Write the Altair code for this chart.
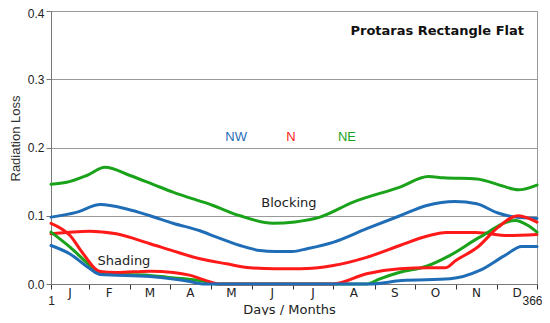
import altair as alt
import pandas as pd

# ---- data ----
blk_ne_day = [1, 12.8, 27.8, 41.6, 60.3, 77.6, 92.6, 122.7, 142.9, 167.7, 184.3, 203, 228, 263.1, 284.4, 295.7, 320.7, 339.5, 351.9, 366]
blk_ne_val = [0.146, 0.149, 0.159, 0.171, 0.159, 0.146, 0.1346, 0.115, 0.100, 0.089, 0.091, 0.098, 0.120, 0.142, 0.1575, 0.1556, 0.154, 0.144, 0.138, 0.145]

blk_nw_day = [1, 20, 38.1, 57.9, 75.4, 92.6, 112.9, 125.4, 142.9, 158, 169.2, 182, 194, 212.8, 238.1, 263.1, 283.2, 304.4, 320.7, 336.7, 349.6, 366]
blk_nw_val = [0.098, 0.105, 0.1165, 0.110, 0.100, 0.089, 0.078, 0.0686, 0.0564, 0.049, 0.0476, 0.0476, 0.052, 0.061, 0.081, 0.100, 0.115, 0.121, 0.1175, 0.104, 0.098, 0.096]

blk_n_day = [1, 30, 50, 75.4, 92.6, 112.9, 132.9, 150.5, 169.2, 188, 213, 238, 263, 283, 298, 320, 344.3, 366]
blk_n_val = [0.0735, 0.0774, 0.0735, 0.059, 0.0485, 0.037, 0.0296, 0.0237, 0.0223, 0.0223, 0.027, 0.039, 0.0564, 0.070, 0.0755, 0.0755, 0.071, 0.0725]

sh_ne_day = [1, 15.3, 30.3, 37.8, 75.4, 87.9, 112.9, 125, 238, 248, 263, 283, 300.7, 323, 349.6, 359.3, 366]
sh_ne_val = [0.076, 0.054, 0.027, 0.015, 0.0125, 0.010, 0.005, 0.0, 0.0, 0.0076, 0.0173, 0.026, 0.042, 0.0686, 0.093, 0.0857, 0.076]

sh_n_day = [1, 15.3, 25.3, 37.8, 50, 75.4, 92.9, 105, 116, 127, 213, 238, 263, 285, 297, 305, 322, 336.7, 351.9, 366]
sh_n_val = [0.089, 0.071, 0.044, 0.0183, 0.0168, 0.0188, 0.017, 0.013, 0.006, 0.0, 0.0, 0.015, 0.0223, 0.0237, 0.0237, 0.0344, 0.055, 0.083, 0.100, 0.0906]

sh_nw_day = [1, 15.3, 30.3, 37.8, 75.4, 105.4, 115, 240, 264.4, 300.7, 323, 342, 354.5, 366]
sh_nw_val = [0.0564, 0.044, 0.0223, 0.014, 0.011, 0.0037, 0.0, 0.0, 0.005, 0.0076, 0.0198, 0.042, 0.055, 0.055]

month_letters = ["J", "F", "M", "A", "M", "J", "J", "A", "S", "O", "N", "D"]
month_ticks = [1, 29.5, 60, 90.5, 121, 152, 182.5, 213, 244, 274.5, 305, 336, 366]

series_names = ["Blk NE", "Blk NW", "Blk N", "Sh NE", "Sh N", "Sh NW"]
series_colors = ["#1aa31a", "#1f6db6", "#ff1a1a", "#1aa31a", "#ff1a1a", "#1f6db6"]

label_text = ["NW", "N", "NE"]
label_day = [140, 181.2, 223.3]
label_val = [0.2147, 0.2147, 0.2147]
label_color = ["#1f6db6", "#ff1a1a", "#1aa31a"]

note_text = ["Blocking", "Shading"]
note_day = [179.7, 55.8]
note_val = [0.118, 0.0344]

# ---- tables ----
rows = []
for name, d, v in [
    ("Blk NE", blk_ne_day, blk_ne_val),
    ("Blk NW", blk_nw_day, blk_nw_val),
    ("Blk N", blk_n_day, blk_n_val),
    ("Sh NE", sh_ne_day, sh_ne_val),
    ("Sh N", sh_n_day, sh_n_val),
    ("Sh NW", sh_nw_day, sh_nw_val),
]:
    for dd, vv in zip(d, v):
        rows.append({"series": name, "day": dd, "value": vv})
df = pd.DataFrame(rows)

months_df = pd.DataFrame({
    "m": month_letters,
    "day": [(month_ticks[i] + month_ticks[i + 1]) / 2 for i in range(12)],
    "idx": list(range(12)),
})
labels_df = pd.DataFrame({"t": label_text, "day": label_day, "value": label_val, "c": label_color})
notes_df = pd.DataFrame({"t": note_text, "day": note_day, "value": note_val})

W, H = 486, 273

xscale = alt.Scale(domain=[1, 366], nice=False, zero=False)
yscale = alt.Scale(domain=[0, 0.4], nice=False)

lines = alt.Chart(df).mark_line(strokeWidth=3, interpolate="monotone", strokeCap="round").encode(
    x=alt.X("day:Q", scale=xscale, axis=alt.Axis(
        values=month_ticks, grid=False, tickSize=5, tickColor="#333", domainColor="#777",
        labelExpr="datum.value == 1 ? '1' : (datum.value == 366 ? '366' : '')",
        labelFont="Liberation Sans", labelFontSize=12, labelColor="#222", labelPadding=6,
        labelFlush=False, labelOverlap=False,
        labelOffset={"condition": {"test": "datum.value == 366", "value": -5}, "value": 0},
        title="Days / Months", titleFont="DejaVu Sans", titleFontSize=13, titleFontWeight="normal",
        titleColor="#222", titleX=238, titleY=25, titleBaseline="middle",
    )),
    y=alt.Y("value:Q", scale=yscale, axis=alt.Axis(
        values=[0, 0.1, 0.2, 0.3, 0.4], format=".1f", grid=True, gridColor="#999",
        tickSize=5, tickColor="#777", domainColor="#777",
        labelFont="Liberation Sans", labelFontSize=12, labelColor="#222", labelPadding=2,
        labelOffset={"condition": {"test": "datum.value >= 0.4", "value": 2}, "value": 0},
        title="Radiation Loss", titleFont="Liberation Sans", titleFontSize=13, titleFontWeight="normal",
        titleColor="#333", titleX=-36, titleY=127, titleBaseline="middle", titleAlign="center",
    )),
    color=alt.Color("series:N", scale=alt.Scale(domain=series_names, range=series_colors), legend=None),
    detail="series:N",
)

months = alt.Chart(months_df).mark_text(font="DejaVu Sans", fontSize=12, color="#222", baseline="middle").encode(
    x=alt.X("day:Q", scale=xscale),
    y=alt.value(H + 8.5),
    text="m:N",
)

labels = alt.Chart(labels_df).mark_text(font="Liberation Sans", fontSize=13, baseline="middle").encode(
    x=alt.X("day:Q", scale=xscale),
    y=alt.Y("value:Q", scale=yscale),
    text="t:N",
    color=alt.Color("c:N", scale=None),
)

notes = alt.Chart(notes_df).mark_text(font="DejaVu Sans", fontSize=13, color="#222", baseline="middle").encode(
    x=alt.X("day:Q", scale=xscale),
    y=alt.Y("value:Q", scale=yscale),
    text="t:N",
)

title = alt.Chart(pd.DataFrame({"t": ["Protaras Rectangle Flat"]})).mark_text(
    font="DejaVu Sans", fontSize=13, fontWeight="bold", color="#111", align="right", baseline="middle"
).encode(
    x=alt.value(473), y=alt.value(20), text="t:N"
)

chart = alt.layer(lines, months, labels, notes, title).properties(
    width=W, height=H,
    autosize=alt.AutoSizeParams(type="none"),
    padding={"left": 43, "top": 3, "right": 5, "bottom": 31},
).configure_view(stroke="#999", strokeWidth=1)

chart.save("out.html", embed_options={"renderer": "svg", "actions": False})
